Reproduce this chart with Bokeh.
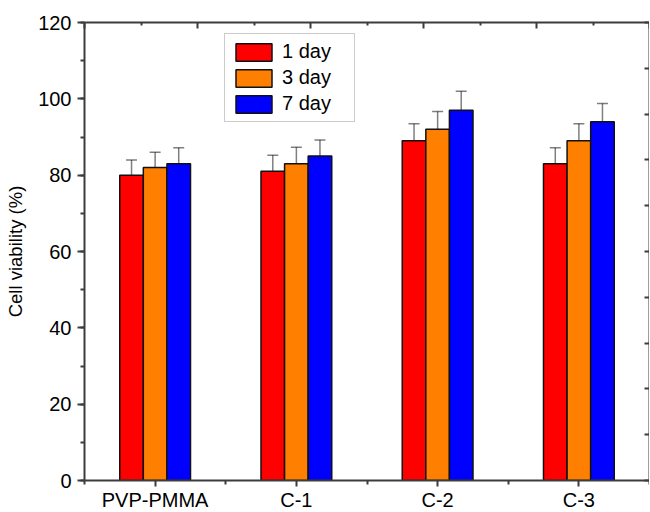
from bokeh.plotting import figure
from bokeh.models import (ColumnDataSource, Range1d, LinearAxis,
                          FixedTicker, SingleIntervalTicker, Whisker, TeeHead,
                          Legend, LegendItem, CustomJSTickFormatter)
from bokeh.transform import dodge
from bokeh.embed import file_html
from bokeh.resources import INLINE

# ---- data ----
categories = ["PVP-PMMA", "C-1", "C-2", "C-3"]
series_names = ["1 day", "3 day", "7 day"]
day1 = [80, 81, 89, 83]
day3 = [82, 83, 92, 89]
day7 = [83, 85, 97, 94]
err1 = [4.0, 4.2, 4.5, 4.2]
err3 = [4.0, 4.3, 4.7, 4.5]
err7 = [4.2, 4.2, 5.0, 4.8]
y_ticks_major = 20
top_ticks = [0, 2, 4, 6, 8, 10]
top_minor = [1, 3, 5, 7, 9]
right_ticks = list(range(0, 11))

colors = ["#FF0000", "#FF8000", "#0000FF"]
FONT = "Liberation Sans"
AX = "#3c3c3c"

n = len(categories)
centers = [i + 0.5 for i in range(n)]

p = figure(frame_width=565, frame_height=458,
           x_range=Range1d(0, n), y_range=Range1d(0, 120),
           output_backend="svg", toolbar_location=None,
           min_border_left=84, min_border_top=22, min_border_right=0,
           min_border_bottom=0)
p.grid.visible = False
p.outline_line_color = None
p.background_fill_color = "white"
p.border_fill_color = "white"

def style_axis(ax):
    ax.axis_line_color = AX
    ax.axis_line_width = 2
    ax.major_tick_line_color = AX
    ax.major_tick_line_width = 2
    ax.minor_tick_line_color = AX
    ax.minor_tick_line_width = 2

# left axis
ya = p.yaxis[0]
ya.ticker = SingleIntervalTicker(interval=y_ticks_major, num_minor_ticks=2)
ya.axis_label = "Cell viability (%)"
ya.axis_label_text_font = FONT
ya.axis_label_text_font_size = "18.5px"
ya.axis_label_text_font_style = "normal"
ya.axis_label_text_color = "black"
ya.axis_label_standoff = 9
ya.major_label_text_font = FONT
ya.major_label_text_font_size = "20px"
ya.major_label_text_color = "black"
ya.major_label_standoff = 6
ya.major_tick_out = 7
ya.major_tick_in = 0
ya.minor_tick_out = 4
ya.minor_tick_in = 0
style_axis(ya)

# bottom axis
xb = p.xaxis[0]
xb.ticker = FixedTicker(ticks=centers, minor_ticks=list(range(n + 1)))
xb.major_label_overrides = {c: cat for c, cat in zip(centers, categories)}
xb.major_label_text_font = FONT
xb.major_label_text_font_size = "20px"
xb.major_label_text_color = "black"
xb.major_label_standoff = 2
xb.major_tick_out = 6
xb.major_tick_in = 0
xb.minor_tick_out = 4
xb.minor_tick_in = 0
style_axis(xb)

# extra ranges for the frame axes (ticks only)
p.extra_x_ranges = {"top": Range1d(0, 10)}
p.extra_y_ranges = {"right": Range1d(0, 10)}
blank = CustomJSTickFormatter(code="return ''")

xt = LinearAxis(x_range_name="top", formatter=blank,
                ticker=FixedTicker(ticks=top_ticks, minor_ticks=top_minor))
xt.major_label_standoff = 0
xt.major_tick_in = 6
xt.major_tick_out = 0
xt.minor_tick_in = 3
xt.minor_tick_out = 0
style_axis(xt)
p.add_layout(xt, "above")

yr = LinearAxis(y_range_name="right", formatter=blank,
                ticker=FixedTicker(ticks=right_ticks, minor_ticks=[]))
yr.major_label_standoff = 0
yr.major_tick_in = 5
yr.major_tick_out = 0
yr.minor_tick_in = 0
yr.minor_tick_out = 0
style_axis(yr)
p.add_layout(yr, "right")

# bars
src = ColumnDataSource(dict(
    xc=centers,
    d1=day1, d3=day3, d7=day7,
    u1=[v + e for v, e in zip(day1, err1)], l1=[v - e for v, e in zip(day1, err1)],
    u3=[v + e for v, e in zip(day3, err3)], l3=[v - e for v, e in zip(day3, err3)],
    u7=[v + e for v, e in zip(day7, err7)], l7=[v - e for v, e in zip(day7, err7)],
))

bw = 0.167
offsets = [-bw, 0.0, bw]
keys = ["1", "3", "7"]
items = []
for name, col, off, k in zip(series_names, colors, offsets, keys):
    r = p.vbar(x=dodge("xc", off), top="d" + k, width=bw,
               source=src, fill_color=col, line_color="#111111", line_width=1.5)
    items.append(LegendItem(label=name, renderers=[r]))
    w = Whisker(base=dodge("xc", off), upper="u" + k, lower="l" + k,
                source=src, line_color="black", line_alpha=0.5, line_width=1.5,
                upper_head=TeeHead(size=11, line_color="black", line_alpha=0.5, line_width=1.5),
                lower_head=TeeHead(size=11, line_color="black", line_alpha=0.5, line_width=1.5))
    p.add_layout(w)

legend = Legend(items=items, location=(140, 358))
legend.label_text_font = FONT
legend.label_text_font_size = "20px"
legend.label_text_color = "black"
legend.glyph_width = 45
legend.glyph_height = 22
legend.label_height = 22
legend.label_width = 66
legend.spacing = 3
legend.padding = 6
legend.margin = 0
legend.label_standoff = 6
legend.border_line_color = "#999999"
legend.border_line_width = 1.5
legend.background_fill_alpha = 1
p.add_layout(legend, "center")

open("out.html", "w").write(file_html(p, INLINE))
